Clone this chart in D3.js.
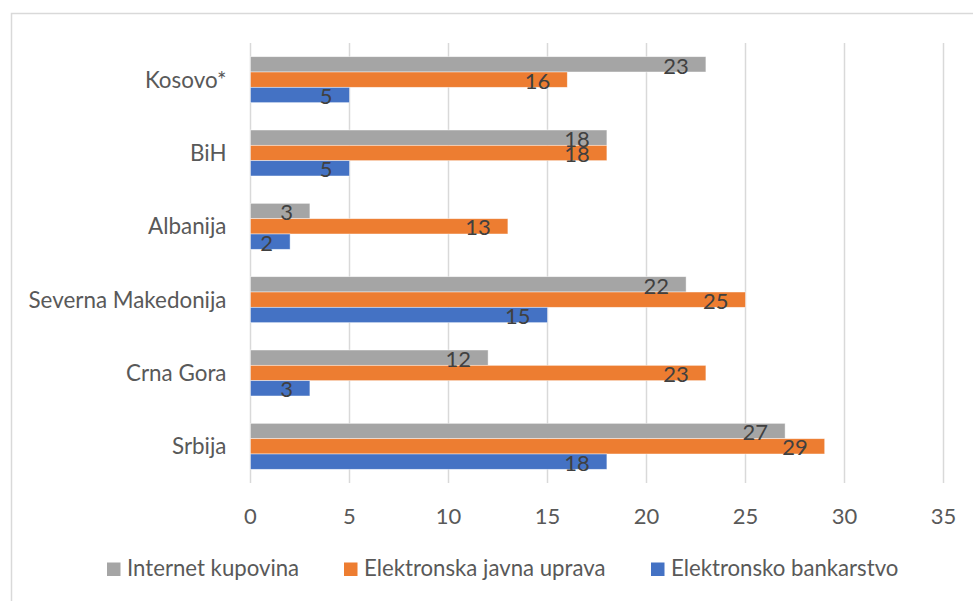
<!DOCTYPE html>
<html>
<head>
<meta charset="utf-8">
<script src="https://cdn.jsdelivr.net/npm/d3@7"></script>
<style>
  body { margin: 0; background: #fff; }
  text { font-family: Lato, "Open Sans", sans-serif; }
</style>
</head>
<body>
<script>
// data
const categories = ["Kosovo*", "BiH", "Albanija", "Severna Makedonija", "Crna Gora", "Srbija"];
const seriesNames = ["Internet kupovina", "Elektronska javna uprava", "Elektronsko bankarstvo"];
const internetKupovina = [23, 18, 3, 22, 12, 27];
const javnaUprava = [16, 18, 13, 25, 23, 29];
const bankarstvo = [5, 5, 2, 15, 3, 18];
const xTicks = [0, 5, 10, 15, 20, 25, 30, 35];

const colors = ["#A5A5A5", "#ED7D31", "#4472C4"];
const seriesValues = [internetKupovina, javnaUprava, bankarstvo];

const W = 973, H = 601;
const svg = d3.select("body").append("svg")
  .attr("width", W)
  .attr("height", H);

// outer chart border (runs off the right and bottom edges)
svg.append("rect")
  .attr("x", 11.5).attr("y", 13.5)
  .attr("width", W).attr("height", H)
  .attr("fill", "none")
  .attr("stroke", "#d9d9d9")
  .attr("stroke-width", 1.5);

const x = d3.scaleLinear().domain([0, 35]).range([250.5, 943.5]);
const y = d3.scaleBand()
  .domain(categories)
  .range([43, 483])
  .paddingInner(0.373)
  .paddingOuter(0.1865);
const ySub = d3.scaleBand().domain(seriesNames).range([0, y.bandwidth()]);

// gridlines
svg.append("g")
  .selectAll("line")
  .data(xTicks)
  .join("line")
  .attr("x1", d => x(d)).attr("x2", d => x(d))
  .attr("y1", 43).attr("y2", 483)
  .attr("stroke", "#d9d9d9")
  .attr("stroke-width", 1.5);

// x tick labels
svg.append("g")
  .selectAll("text")
  .data(xTicks)
  .join("text")
  .attr("x", d => x(d))
  .attr("y", 524)
  .attr("text-anchor", "middle")
  .attr("fill", "#595959")
  .style("font-size", "22px")
  .text(d => d);

// category labels
svg.append("g")
  .selectAll("text")
  .data(categories)
  .join("text")
  .attr("x", 226.5)
  .attr("y", d => y(d) + y.bandwidth() / 2)
  .attr("dy", "0.36em")
  .attr("text-anchor", "end")
  .attr("fill", "#595959")
  .style("font-size", "22.4px")
  .text(d => d);

// bars
const rows = [];
categories.forEach((c, i) => {
  seriesNames.forEach((s, j) => {
    rows.push({ cat: c, series: s, value: seriesValues[j][i], color: colors[j] });
  });
});

svg.append("g")
  .selectAll("rect")
  .data(rows)
  .join("rect")
  .attr("x", x(0))
  .attr("y", d => y(d.cat) + ySub(d.series))
  .attr("width", d => x(d.value) - x(0))
  .attr("height", ySub.bandwidth())
  .attr("fill", d => d.color)
  .attr("stroke", "#fff")
  .attr("stroke-opacity", 0.6)
  .attr("stroke-width", 0.75);

// value labels
svg.append("g")
  .selectAll("text")
  .data(rows)
  .join("text")
  .attr("x", d => x(d.value) - 17)
  .attr("y", d => y(d.cat) + ySub(d.series) + ySub.bandwidth() + 1.5)
  .attr("text-anchor", "end")
  .attr("fill", "#404040")
  .style("font-size", "22px")
  .text(d => d.value);

// legend
const legendX = [107, 344, 651];
const legend = svg.append("g")
  .selectAll("g")
  .data(seriesNames)
  .join("g")
  .attr("transform", (d, i) => `translate(${legendX[i]},562.5)`);

legend.append("rect")
  .attr("width", 13.5).attr("height", 13.5)
  .attr("fill", (d, i) => colors[i]);

legend.append("text")
  .attr("x", 20)
  .attr("y", 13.5)
  .attr("fill", "#595959")
  .style("font-size", "22.2px")
  .text(d => d);
</script>
</body>
</html>
